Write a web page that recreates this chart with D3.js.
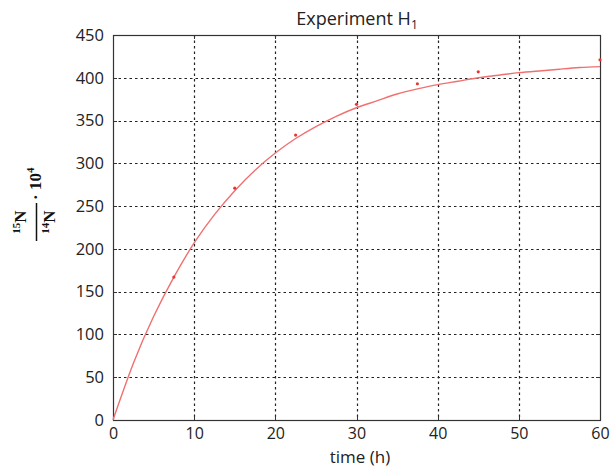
<!DOCTYPE html>
<html><head><meta charset="utf-8">
<script src="https://cdn.jsdelivr.net/npm/d3@7"></script>
<style>body{margin:0;background:#fff}svg{display:block}</style>
</head><body>
<script>
const title = "Experiment H";
const xLabel = "time (h)";
const xTicks = [0,10,20,30,40,50,60];
const yTicks = [0,50,100,150,200,250,300,350,400,450];
// fitted curve
const curveT = [0,2.5,5,7.5,10,12.5,15,17.5,20,22.5,25,27.5,30,32.5,35,37.5,40,42.5,45,47.5,50,52.5,55,57.5,60];
const curveV = [0,66,121,167,207,240,268,292,312,329,343,355,365,373,381,387,392,396,400,403,406,408,410,412,413];
// measured points
const pointT = [7.5,15,22.5,30,37.5,45,60];
const pointV = [167,271,333,369,393,407,421];

const W=611,H=467;
const m={l:113,r:600,t:35,b:420};
const svg=d3.select("body").append("svg").attr("width",W).attr("height",H);
const x=d3.scaleLinear().domain([0,60]).range([m.l,m.r]);
const y=d3.scaleLinear().domain([0,450]).range([m.b,m.t]);
const font="'Open Sans', 'Liberation Sans', Arial, sans-serif";

// grid
const g=svg.append("g");
g.selectAll("line.gx").data(xTicks.slice(1,-1)).join("line")
 .attr("x1",d=>Math.round(x(d))+0.5).attr("x2",d=>Math.round(x(d))+0.5).attr("y1",m.t).attr("y2",m.b)
 .attr("stroke","#222").attr("stroke-width",1.2).attr("stroke-dasharray","2.5,3");
g.selectAll("line.gy").data(yTicks.slice(1,-1)).join("line")
 .attr("y1",d=>Math.round(y(d))+0.5).attr("y2",d=>Math.round(y(d))+0.5).attr("x1",m.l).attr("x2",m.r)
 .attr("stroke","#222").attr("stroke-width",1.2).attr("stroke-dasharray","2.5,3");

// inward ticks on all four sides
const tl=4;
const tk=svg.append("g").attr("stroke","#333").attr("stroke-width",1);
tk.selectAll("line.tb").data(xTicks).join("line")
 .attr("x1",d=>Math.round(x(d))+0.5).attr("x2",d=>Math.round(x(d))+0.5).attr("y1",m.b).attr("y2",m.b-tl);
tk.selectAll("line.tt").data(xTicks).join("line")
 .attr("x1",d=>Math.round(x(d))+0.5).attr("x2",d=>Math.round(x(d))+0.5).attr("y1",m.t).attr("y2",m.t+tl);
tk.selectAll("line.tl").data(yTicks).join("line")
 .attr("y1",d=>Math.round(y(d))+0.5).attr("y2",d=>Math.round(y(d))+0.5).attr("x1",m.l).attr("x2",m.l+tl);
tk.selectAll("line.tr").data(yTicks).join("line")
 .attr("y1",d=>Math.round(y(d))+0.5).attr("y2",d=>Math.round(y(d))+0.5).attr("x1",m.r).attr("x2",m.r-tl);

// frame
svg.append("rect").attr("x",m.l+0.5).attr("y",m.t+0.5).attr("width",m.r-m.l).attr("height",m.b-m.t)
 .attr("fill","none").attr("stroke","#333").attr("stroke-width",1.2);

// axes labels via d3 axes
const xa=svg.append("g").attr("transform",`translate(0,${m.b})`)
 .call(d3.axisBottom(x).tickValues(xTicks).tickSize(0).tickPadding(8));
xa.select(".domain").remove();
xa.selectAll("text").attr("font-family",font).attr("font-size",16).attr("fill","#222");
const ya=svg.append("g").attr("transform",`translate(${m.l},0)`)
 .call(d3.axisLeft(y).tickValues(yTicks).tickSize(0).tickPadding(9));
ya.select(".domain").remove();
ya.selectAll("text").attr("font-family",font).attr("font-size",16.5).attr("fill","#222");

// curve
const line=d3.line().x((d,i)=>x(curveT[i])).y(d=>y(d)).curve(d3.curveNatural);
svg.append("path").datum(curveV).attr("d",line).attr("fill","none")
 .attr("stroke","#f07070").attr("stroke-width",1.4);
svg.selectAll("circle.p").data(pointV).join("circle")
 .attr("cx",(d,i)=>x(pointT[i])).attr("cy",d=>y(d)).attr("r",1.6).attr("fill","#e33");

// title
const tt=svg.append("text").attr("x",357).attr("y",25).attr("text-anchor","middle")
 .attr("font-family",font).attr("font-size",18).attr("fill","#222").text(title);
tt.append("tspan").attr("font-size",12).attr("dy",4).text("1");
svg.append("text").attr("x",360).attr("y",463).attr("text-anchor","middle")
 .attr("font-family",font).attr("font-size",17).attr("fill","#222").text(xLabel);

// y label: rotated fraction 15N/14N · 10^4
const yl=svg.append("g").attr("transform","translate(36,204) rotate(-90)");
const sf="'Liberation Serif','DejaVu Serif',serif";
const num=yl.append("text").attr("x",-18).attr("y",-10).attr("text-anchor","middle")
 .attr("font-family",sf).attr("font-weight","bold").attr("font-size",17).attr("fill","#111");
num.append("tspan").attr("font-size",11).attr("dy",-6).text("15");
num.append("tspan").attr("dy",6).text("N");
const den=yl.append("text").attr("x",-18).attr("y",19).attr("text-anchor","middle")
 .attr("font-family",sf).attr("font-weight","bold").attr("font-size",17).attr("fill","#111");
den.append("tspan").attr("font-size",11).attr("dy",-6).text("14");
den.append("tspan").attr("dy",6).text("N");
yl.append("line").attr("x1",-37).attr("x2",1).attr("y1",0.5).attr("y2",0.5).attr("stroke","#111").attr("stroke-width",1.5);
const tx=yl.append("text").attr("x",4).attr("y",5).attr("font-family",sf).attr("font-weight","bold")
 .attr("font-size",17).attr("fill","#111");
tx.append("tspan").text("· 10");
tx.append("tspan").attr("font-size",11).attr("dy",-7).text("4");
</script>
</body></html>
